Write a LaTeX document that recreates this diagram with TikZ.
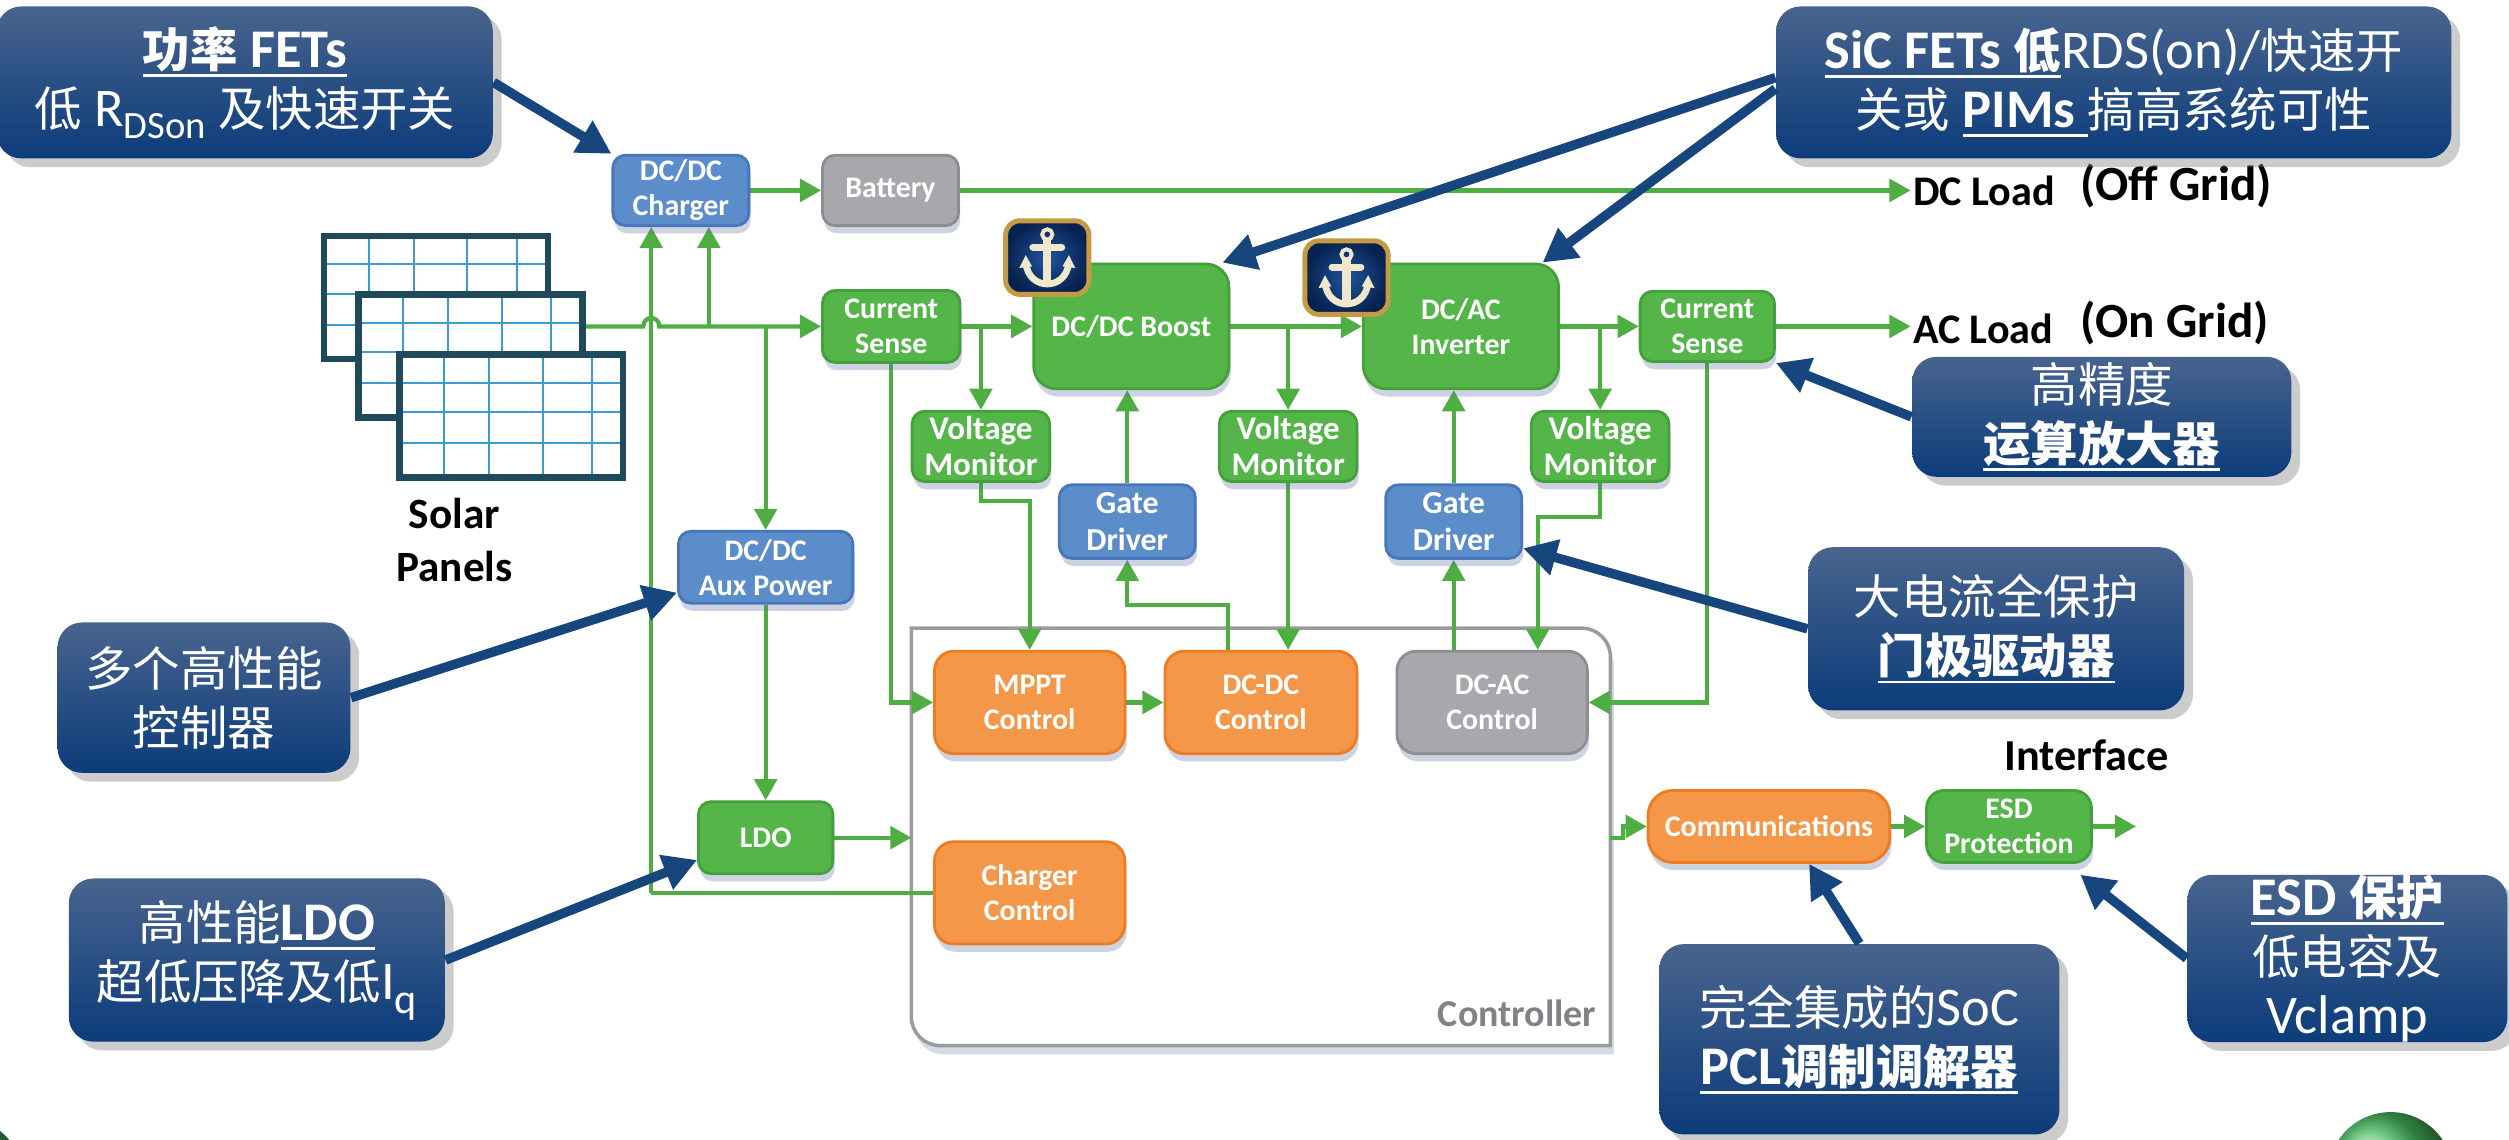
\documentclass[tikz,border=0pt]{standalone}
\usepackage{fontspec}
\setmainfont{Carlito}
\newfontfamily\cjk{Noto Sans CJK SC}
\usetikzlibrary{arrows.meta,shadows,calc}

\pgfdeclarelayer{back}
\pgfdeclarelayer{wires}
\pgfdeclarelayer{front}
\pgfsetlayers{back,wires,main,front}

\newlength\dpx
\setlength\dpx{0.016cm}

\definecolor{gfill}{RGB}{84,182,72}
\definecolor{gedge}{RGB}{68,160,58}
\definecolor{bfill}{RGB}{92,141,203}
\definecolor{bedge}{RGB}{72,118,186}
\definecolor{yfill}{RGB}{166,168,171}
\definecolor{yedge}{RGB}{140,142,146}
\definecolor{ofill}{RGB}{245,151,72}
\definecolor{oedge}{RGB}{238,124,34}
\definecolor{wirecol}{RGB}{78,174,66}
\definecolor{pointcol}{RGB}{22,70,125}
\definecolor{calltop}{RGB}{72,100,142}
\definecolor{callbot}{RGB}{12,60,122}
\definecolor{frame}{RGB}{155,155,155}
\definecolor{ctrltext}{RGB}{128,130,133}
\definecolor{panelrim}{RGB}{30,74,92}
\definecolor{panelgrid}{RGB}{60,155,210}
\definecolor{gold}{RGB}{196,154,68}
\definecolor{iconin}{RGB}{30,85,155}
\definecolor{iconout}{RGB}{8,34,80}
\definecolor{cream}{RGB}{240,232,205}
\definecolor{ballgreen}{RGB}{70,185,95}
\definecolor{unitshade}{RGB}{90,110,160}

% CJK text at its own size, Latin stays in Carlito
\newcommand\zh[1]{{\cjk\fontsize{13.5}{16.8}\selectfont #1}}
% heavy underline
\newcommand\undl[1]{\leavevmode\setbox0\hbox{#1}\rlap{\raisebox{-2.8pt}{\rule{\wd0}{0.8pt}}}\box0}

\tikzset{
  sz/.style 2 args={minimum width=#1\dpx, minimum height=#2\dpx},
  unitbox/.style={draw, line width=0.8pt, rounded corners=3.6pt, inner sep=0pt,
    align=center, text=white, font=\fontsize{8.5}{10}\selectfont\bfseries,
    drop shadow={opacity=0.3, shadow xshift=0.5pt, shadow yshift=-2.2pt, fill=unitshade}},
  gbox/.style={unitbox, fill=gfill, draw=gedge},
  bbox/.style={unitbox, fill=bfill, draw=bedge},
  ybox/.style={unitbox, fill=yfill, draw=yedge},
  obox/.style={unitbox, fill=ofill, draw=oedge, rounded corners=5.5pt},
  bigbox/.style={gbox, rounded corners=6.5pt},
  monbox/.style={gbox, font=\fontsize{9.4}{10.2}\selectfont\bfseries},
  drvbox/.style={bbox, font=\fontsize{9.1}{10.4}\selectfont\bfseries},
  infobox/.style={rounded corners=7pt, top color=calltop, bottom color=callbot,
    text=white, align=center, inner sep=0pt, font=\fontsize{15.5}{16.8}\selectfont,
    drop shadow={opacity=0.4, shadow xshift=2.5pt, shadow yshift=-2.5pt, fill=black!50}},
  wire/.style={draw=wirecol, line width=1.2pt},
  garrow/.style={wire, -{Triangle[length=6pt,width=6.4pt]}},
  pointer/.style={draw=pointcol, line width=2.7pt, -{Triangle[length=9.5pt,width=10pt]}},
  panel/.style={fill=white, inner sep=0pt, minimum width=139\dpx, minimum height=76\dpx},
  badge/.style={rounded corners=4pt, inner color=iconin, outer color=iconout,
    draw=gold, line width=1.4pt, inner sep=0pt, minimum width=52\dpx, minimum height=46\dpx},
}

% one solar panel: frame with an uneven cell grid
\newcommand\solarpanel[3]{%
  \node[panel] (#1) at (#2,#3) {};
  \foreach \f in {0.2,0.4,0.64,0.86}
    \draw[panelgrid, line width=0.6pt] ($(#1.north west)!\f!(#1.north east)$) -- ($(#1.south west)!\f!(#1.south east)$);
  \foreach \f in {0.23,0.47,0.72}
    \draw[panelgrid, line width=0.6pt] ($(#1.north west)!\f!(#1.south west)$) -- ($(#1.north east)!\f!(#1.south east)$);
  \draw[panelrim, line width=1.9pt] (#1.north west) rectangle (#1.south east);
}

% anchor badge
\newcommand\anchorbadge[3]{%
  \node[badge] (#1) at (#2,#3) {};
  \begin{scope}[shift={(#1.center)}, color=cream]
    \draw[line width=1.1pt] (0,-14.5) circle[radius=3.2];
    \draw[line width=2.3pt] (0,-11.3) -- (0,15.5);
    \draw[line width=2pt, line cap=round] (-9,-6.5) -- (9,-6.5);
    \draw[line width=1.9pt] (-13.5,3) .. controls (-12.5,12.5) and (-6,16.5) .. (0,16.5)
      .. controls (6,16.5) and (12.5,12.5) .. (13.5,3);
    \fill (-13.5,-1.5) -- (-17.5,6.5) -- (-9.5,5.5) -- cycle;
    \fill (13.5,-1.5) -- (17.5,6.5) -- (9.5,5.5) -- cycle;
  \end{scope}}

\begin{document}
\begin{tikzpicture}[x=0.016cm, y=-0.016cm]
\useasboundingbox (0,0) rectangle (1568,712);

% ---------- functional blocks ----------
\node[bbox, sz={85}{44}] (charger) at (425.5,119) {DC/DC\\Charger};
\node[ybox, sz={85}{44}] (battery) at (556.5,119) {Battery};
\node[gbox, sz={86}{45}] (cs1) at (557,204) {Current\\Sense};
\node[bigbox, sz={122}{78}] (boost) at (707,204) {DC/DC Boost};
\node[bigbox, sz={122}{78}] (inv) at (913,204) {DC/AC\\Inverter};
\node[gbox, sz={84}{44}] (cs2) at (1067,204) {Current\\Sense};
\node[monbox, sz={86}{44}] (vm1) at (613,279) {Voltage\\Monitor};
\node[monbox, sz={86}{44}] (vm2) at (805,279) {Voltage\\Monitor};
\node[monbox, sz={86}{44}] (vm3) at (1000,279) {Voltage\\Monitor};
\node[drvbox, sz={85}{46}] (gd1) at (704.5,326) {Gate\\Driver};
\node[drvbox, sz={85}{46}] (gd2) at (908.5,326) {Gate\\Driver};
\node[bbox, sz={109}{45}] (aux) at (478.5,354.5) {DC/DC\\Aux Power};
\node[gbox, sz={84}{45}] (ldo) at (478.5,523.5) {LDO};
\node[inner sep=0pt, sz={436}{260}] (ctrl) at (788,523) {};
\node[obox, sz={119}{64}] (mppt) at (643.5,439) {MPPT\\Control};
\node[obox, sz={120}{64}] (dcdc) at (788,439) {DC-DC\\Control};
\node[ybox, sz={119}{64}, rounded corners=5.5pt] (dcac) at (932.5,439) {DC-AC\\Control};
\node[obox, sz={119}{64}] (chgc) at (643.5,558) {Charger\\Control};
\node[obox, sz={151}{45}, rounded corners=7pt] (comms) at (1105.5,516.5) {Communications};
\node[gbox, sz={103}{45}, rounded corners=5pt] (esd) at (1255.5,516.5) {ESD\\Protection};

% ---------- solar array ----------
\solarpanel{p1}{272.5}{186}
\solarpanel{p2}{294}{222.5}
\solarpanel{p3}{319.5}{260}
\node[font=\fontsize{12.3}{15.2}\selectfont\bfseries, align=center] (solar) at (284,337.5) {Solar\\Panels};

% ---------- plain labels ----------
\node[font=\fontsize{12}{15}\selectfont\bfseries, anchor=west, inner sep=0.5pt] (dcload) at (1194,119.5) {DC Load};
\node[font=\fontsize{14}{16}\selectfont\bfseries, anchor=west, inner sep=0pt] (offgrid) at (1300,116) {(Off Grid)};
\node[font=\fontsize{12}{15}\selectfont\bfseries, anchor=west, inner sep=0.5pt] (acload) at (1194,205.5) {AC Load};
\node[font=\fontsize{14}{16}\selectfont\bfseries, anchor=west, inner sep=0pt] (ongrid) at (1300,202) {(On Grid)};
\node[font=\fontsize{12.6}{15}\selectfont\bfseries] (iface) at (1304,472) {Interface};
\node[font=\fontsize{10.8}{13}\selectfont\bfseries, text=ctrltext, anchor=east, inner sep=0pt] (ctrlname) at (998,633) {Controller};

% ---------- callouts ----------
\node[infobox, sz={310}{95}] (co1) at (153,51.5)
  {{\bfseries\undl{\zh{功率} FETs}}\\
   \zh{低} R\raisebox{-3.5pt}{\fontsize{11}{12}\selectfont DSon} \zh{及快速开关}};
\node[infobox, sz={422}{95}] (co2) at (1321,51.5)
  {{\bfseries\undl{SiC FETs \zh{低}}}RDS(on)/\zh{快速开}\\
   \zh{关或} \undl{\bfseries PIMs\ }\zh{搞高系统可性}};
\node[infobox, sz={237}{75}] (co3) at (1313.5,260.5)
  {\zh{高精度}\\ \bfseries\undl{\zh{运算放大器}}};
\node[infobox, sz={235}{102}] (co4) at (1247.5,393)
  {\zh{大电流全保护}\\ \bfseries\undl{\zh{门极驱动器}}};
\node[infobox, sz={183}{94}] (co5) at (127.5,436)
  {\zh{多个高性能}\\ \zh{控制器}};
\node[infobox, sz={235}{102}] (co6) at (160.5,600)
  {\zh{高性能}\undl{\bfseries LDO}\\
   \zh{超低压降及低}I\raisebox{-4pt}{\fontsize{12}{12}\selectfont q}};
\node[infobox, sz={250}{119}] (co7) at (1162,649.5)
  {\zh{完全集成的}SoC\\ \bfseries\undl{PCL\zh{调制调解器}}};
\node[infobox, sz={200}{104}] (co8) at (1467,599)
  {\bfseries\undl{ESD \zh{保护}}\\ \mdseries\zh{低电容及}\\ \mdseries Vclamp};

% ---------- page background, corner spheres, controller frame ----------
\begin{pgfonlayer}{back}
  \fill[white] (0,0) rectangle (1568,712);
  \begin{scope}
    \clip (0,0) rectangle (1568,712);
    \shade[ball color=ballgreen] (1494,734) circle[radius=39];
    \shade[ball color=ballgreen] (-25,738) circle[radius=40];
  \end{scope}
  \draw[draw=frame, line width=1pt, fill=white,
        drop shadow={opacity=0.25, shadow xshift=1pt, shadow yshift=-2.5pt, fill=unitshade}]
    (ctrl.north west) -- ($(ctrl.north east)+(-18,0)$)
    .. controls ($(ctrl.north east)+(-8,0)$) and ($(ctrl.north east)+(0,8)$) .. ($(ctrl.north east)+(0,18)$)
    -- (ctrl.south east) -- ($(ctrl.south west)+(18,0)$)
    .. controls ($(ctrl.south west)+(8,0)$) and ($(ctrl.south west)+(0,-8)$) .. ($(ctrl.south west)+(0,-18)$)
    -- cycle;
\end{pgfonlayer}

% ---------- green signal and power paths ----------
\begin{pgfonlayer}{wires}
  \coordinate (hop) at (407,204);
  \draw[garrow] (p2.east |- cs1.west) -- ($(hop)+(-5,0)$)
    .. controls ($(hop)+(-5,-7)$) and ($(hop)+(5,-7)$) .. ($(hop)+(5,0)$) -- (cs1.west);
  \draw[garrow] (hop |- chgc.west) -- (hop |- charger.south);
  \draw[wire] (hop |- chgc.west) -- (chgc.west);
  \coordinate (tap) at (443,204);
  \draw[garrow] (tap) -- (tap |- charger.south);
  \draw[garrow] (aux.north |- cs1.west) -- (aux.north);
  \draw[garrow] (aux.south) -- (ldo.north);
  \draw[garrow] (ldo.east) -- (ldo.east -| ctrl.west);
  \draw[garrow] (charger.east) -- (battery.west);
  \draw[garrow] (battery.east) -- (battery.east -| dcload.west);
  \draw[garrow] (cs1.east) -- (boost.west);
  \draw[garrow] (vm1.north |- cs1.east) -- (vm1.north);
  \draw[garrow] (boost.east) -- (inv.west);
  \draw[garrow] (vm2.north |- boost.east) -- (vm2.north);
  \draw[garrow] (inv.east) -- (cs2.west);
  \draw[garrow] (vm3.north |- inv.east) -- (vm3.north);
  \draw[garrow] (cs2.east) -- (cs2.east -| acload.west);
  \draw[garrow] (cs1.south) |- (mppt.west);
  \draw[garrow] (vm1.south) -- ++(0,11) -| (mppt.north);
  \draw[garrow] ($(dcdc.north)+(-20.4,0)$) -- ++(0,-28) -| (gd1.south);
  \draw[garrow] (gd1.north) -- (gd1.north |- boost.south);
  \draw[garrow] (vm2.south) -- (vm2.south |- dcdc.north);
  \draw[garrow] (mppt.east) -- (dcdc.west);
  \draw[garrow] (gd2.north) -- (gd2.north |- inv.south);
  \draw[garrow] (gd2.south |- dcac.north) -- (gd2.south);
  \draw[garrow] (vm3.south) -- ++(0,21) -| ($(dcac.north)+(28.5,0)$);
  \draw[garrow] (cs2.south) |- (dcac.east);
  \draw[garrow] (ctrl.east |- ldo.east) -- ++(8,0) |- (comms.west);
  \draw[garrow] (comms.east) -- (esd.west);
  \coordinate (esdout) at ($(esd.east)+(27,0)$);
  \draw[garrow] (esd.east) -- (esdout);
\end{pgfonlayer}

% ---------- callout pointers and anchor badges ----------
\begin{pgfonlayer}{front}
  \draw[pointer] (co1.east) -- (charger.north west);
  \draw[pointer] ($(co2.west)+(0,-3)$) -- (boost.35);
  \draw[pointer] ($(co2.west)+(0,4)$) -- (inv.38);
  \draw[pointer] (co3.west) -- (cs2.south east);
  \draw[pointer] (co4.west) -- (gd2.-21);
  \draw[pointer] (co5.east) -- (aux.196);
  \draw[pointer] (co6.east) -- (ldo.198);
  \draw[pointer] (co7.north) -- (comms.-43);
  \draw[pointer, shorten >=5pt] (co8.west) -- (esd.-33);
  \anchorbadge{ic1}{654.5}{161}
  \anchorbadge{ic2}{841.5}{173.5}
\end{pgfonlayer}
\end{tikzpicture}
\end{document}
